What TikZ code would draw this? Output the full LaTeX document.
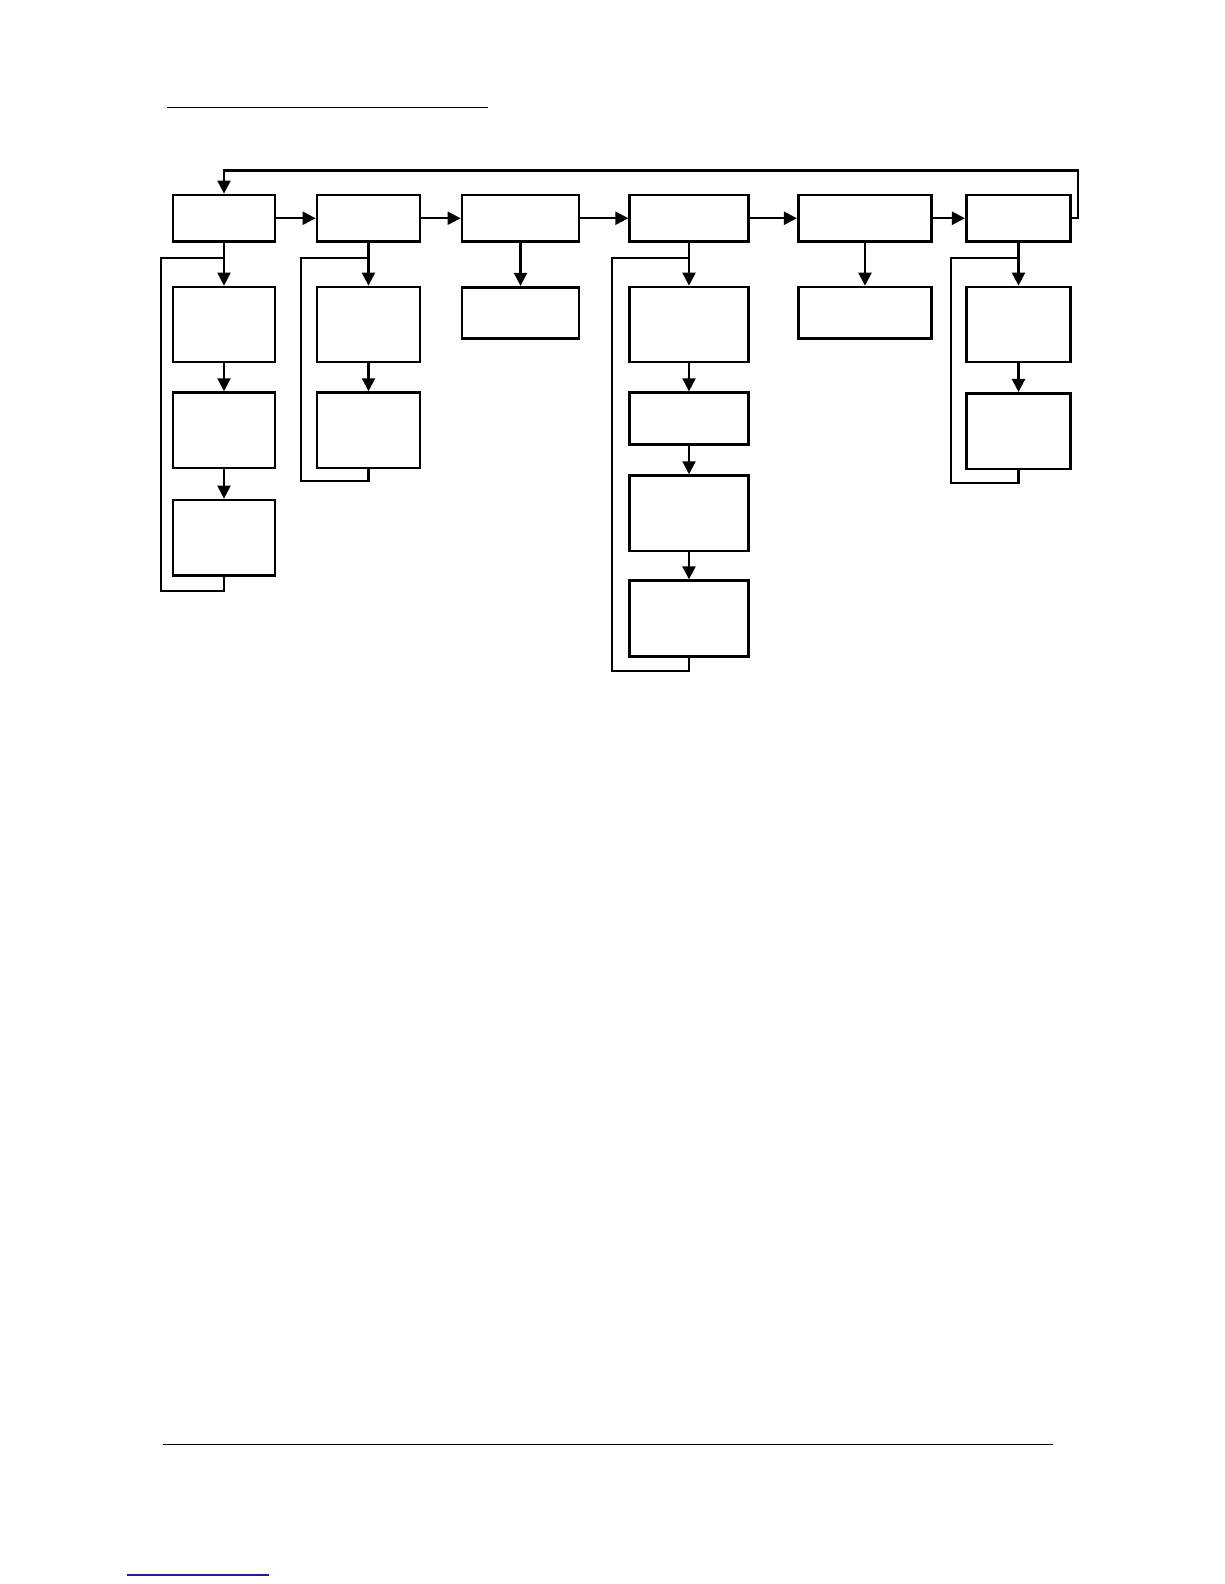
\documentclass[tikz,border=0pt]{standalone}
\usetikzlibrary{arrows.meta}
\definecolor{linkblue}{RGB}{30,30,150}
\begin{document}
\begin{tikzpicture}[x=1pt,y=-1pt,
  box/.style={draw,line width=2.8pt,inner sep=0pt,minimum width=#1,anchor=center},
  conn/.style={line width=2.2pt,line join=miter},
  arr/.style={conn,-{Triangle[length=13pt,width=13pt]}}]
\useasboundingbox (0,0) rectangle (1224,1584);
% rules
\draw[line width=1pt] (167,108) -- (488,108);
\draw[line width=1.4pt] (162.5,1444.3) -- (1052.5,1444.3);
\draw[line width=1.4pt,linkblue] (126.5,1575) -- (269,1575);
% top row
\node[box=102pt,minimum height=46.5pt] (b1) at (224,218.25) {};
\node[box=103pt,minimum height=46.5pt] (b2) at (368.5,218.25) {};
\node[box=117pt,minimum height=46.5pt] (b3) at (520.5,218.25) {};
\node[box=118.5pt,minimum height=46.5pt] (b4) at (689,218.25) {};
\node[box=133.4pt,minimum height=46.5pt] (b5) at (865,218.25) {};
\node[box=104.3pt,minimum height=46.5pt] (b6) at (1018.5,218.25) {};
% column 1
\node[box=102pt,minimum height=75pt] (a1) at (224,324.5) {};
\node[box=102pt,minimum height=75.3pt] (a2) at (224,430.3) {};
\node[box=102pt,minimum height=75.3pt] (a3) at (224,537.7) {};
% column 2
\node[box=103pt,minimum height=75pt] (c1) at (368.5,324.5) {};
\node[box=103pt,minimum height=75.3pt] (c2) at (368.5,430.3) {};
% column 3
\node[box=117pt,minimum height=51pt] (d1) at (520.5,312.8) {};
% column 4
\node[box=118.5pt,minimum height=75pt] (e1) at (689,324.5) {};
\node[box=118.5pt,minimum height=51.5pt] (e2) at (689,418.5) {};
\node[box=118.5pt,minimum height=75.3pt] (e3) at (689,513.3) {};
\node[box=118.5pt,minimum height=76pt] (e4) at (689,618.7) {};
% column 5
\node[box=133.4pt,minimum height=51.3pt] (f1) at (865,312.7) {};
% column 6
\node[box=104.3pt,minimum height=75pt] (g1) at (1018.5,324.5) {};
\node[box=104.3pt,minimum height=75.7pt] (g2) at (1018.5,431.2) {};
% horizontal arrows
\draw[arr] (b1) -- (b2);
\draw[arr] (b2) -- (b3);
\draw[arr] (b3) -- (b4);
\draw[arr] (b4) -- (b5);
\draw[arr] (b5) -- (b6);
% feedback loop
\coordinate (fbr) at (1078.3,170.5);
\draw[arr] (b6.east) -| (fbr) -| (b1.north);
% vertical arrows
\draw[arr] (b1) -- (a1);
\draw[arr] (a1) -- (a2);
\draw[arr] (a2) -- (a3);
\draw[arr] (b2) -- (c1);
\draw[arr] (c1) -- (c2);
\draw[arr] (b3) -- (d1);
\draw[arr] (b4) -- (e1);
\draw[arr] (e1) -- (e2);
\draw[arr] (e2) -- (e3);
\draw[arr] (e3) -- (e4);
\draw[arr] (b5) -- (f1);
\draw[arr] (b6) -- (g1);
\draw[arr] (g1) -- (g2);
% return loops
\coordinate (j1) at (224,258.3);
\coordinate (l1) at (160.7,590.7);
\draw[conn] (a3.south) |- (l1) |- (j1);
\coordinate (j2) at (368.5,258.3);
\coordinate (l2) at (300.7,480.7);
\draw[conn] (c2.south) |- (l2) |- (j2);
\coordinate (j4) at (689,258.3);
\coordinate (l4) at (611.7,670.7);
\draw[conn] (e4.south) |- (l4) |- (j4);
\coordinate (j6) at (1018.5,258.3);
\coordinate (l6) at (950.7,483.3);
\draw[conn] (g2.south) |- (l6) |- (j6);
\end{tikzpicture}
\end{document}
